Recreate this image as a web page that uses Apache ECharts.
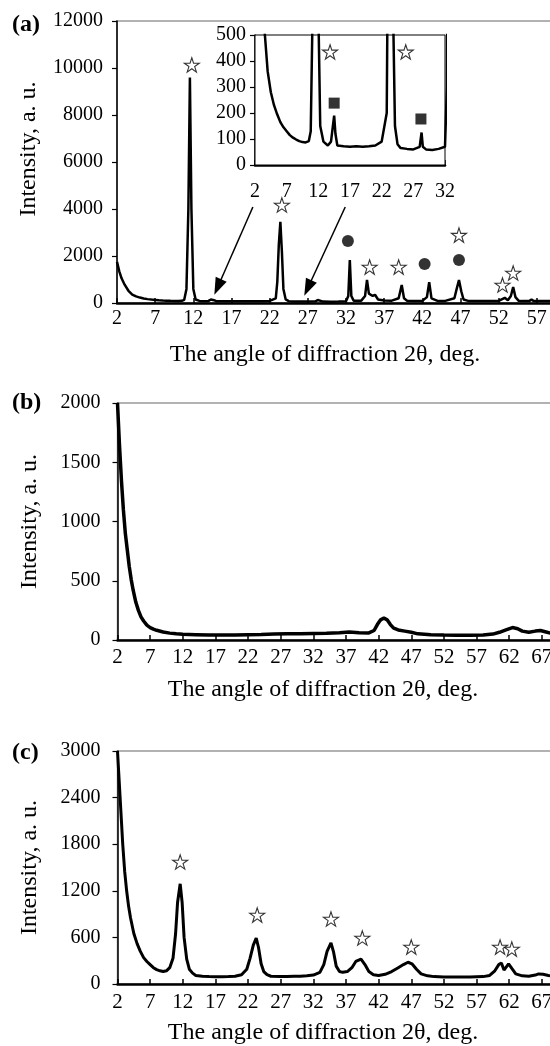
<!DOCTYPE html>
<html>
<head>
<meta charset="utf-8">
<script src="https://cdn.jsdelivr.net/npm/echarts@6/dist/echarts.min.js"></script>
<style>
html,body{margin:0;padding:0;background:#fff;}
#chart{width:550px;height:1046px;}
</style>
</head>
<body>
<div id="chart"></div>
<script>
// ---------- Panel (a): XRD pattern ----------
const angleA = [2.0,2.3,2.6,3.0,3.5,4.0,4.5,5.0,5.5,6.0,6.5,7.0,7.5,8.0,8.5,9.0,9.5,10.0,10.5,10.8,11.1,11.35,11.55,11.75,12.0,12.3,12.8,13.5,14.0,14.3,14.5,14.7,15.0,16.0,17.0,18.0,19.0,20.0,21.0,22.0,22.8,23.0,23.2,23.4,23.6,23.8,24.1,24.5,25.0,26.0,27.0,28.0,28.3,28.5,29.0,30.0,31.0,32.0,32.3,32.5,32.7,33.0,34.0,34.5,34.75,35.0,35.5,35.8,36.2,37.0,38.0,38.9,39.3,39.6,40.0,41.0,42.0,42.6,42.9,43.2,44.0,45.0,46.2,46.5,46.8,47.1,47.4,48.0,49.0,50.0,51.0,52.0,52.8,53.2,53.6,53.9,54.2,54.6,55.0,56.0,56.3,56.6,57.5,58.0,59.0,60.0,61.0,62.0];
const intensityA = [1750,1350,1050,780,520,360,280,230,195,165,145,130,115,105,98,92,88,87,92,130,600,4000,9600,4000,600,150,90,75,90,150,190,120,75,72,70,72,70,72,75,90,200,900,2500,3450,2200,600,150,80,65,62,60,70,125,70,60,58,62,70,300,1830,300,100,100,300,980,400,300,350,150,110,100,200,765,200,100,90,90,250,890,200,90,90,200,600,980,500,150,90,80,80,80,90,220,120,300,680,250,100,80,80,150,80,80,80,80,80,80,80];
const starAngleA = [11.8,23.6,35.1,38.9,46.8,52.5,53.9];
const starIntensityA = [10130,4170,1530,1530,2890,765,1276];
const dotAngleA = [32.25,42.3,46.8];
const dotIntensityA = [2640,1660,1830];
// arrows from the inset down to the pattern: [startAngle, startIntensity, endAngle, endIntensity]
const arrowsA = [[19.8,4085,15.2,680],[31.9,4085,27.0,640]];
// inset (same pattern, 0-500 range)
const starAngleInset = [13.85,25.8];
const starIntensityInset = [435,435];
const squareAngleInset = [14.5,28.2];
const squareIntensityInset = [238,177];

// ---------- Panel (b) ----------
const angleB = [2.0,2.3,2.6,2.9,3.2,3.5,3.8,4.1,4.4,4.8,5.2,5.6,6.0,6.5,7.0,7.5,8.0,9.0,10.0,11.0,12.0,14.0,16.0,18.0,20.0,22.0,24.0,26.0,28.0,30.0,32.0,34.0,36.0,37.5,39.0,40.5,41.3,41.8,42.3,42.8,43.3,43.8,44.3,45.0,46.0,47.0,48.0,50.0,52.0,54.0,56.0,58.0,59.5,60.5,61.5,62.5,63.3,64.0,65.0,66.0,66.8,67.5,68.5,70.0,72.0];
const intensityB = [2000,1650,1350,1100,900,760,620,510,420,320,250,195,160,125,105,92,82,68,58,52,48,45,42,42,43,45,47,50,52,52,55,58,62,68,62,60,80,130,170,185,170,130,100,85,75,65,52,45,42,40,40,42,50,65,85,105,95,75,65,75,80,70,55,50,48];

// ---------- Panel (c) ----------
const angleC = [2.0,2.2,2.5,2.8,3.1,3.4,3.7,4.0,4.5,5.0,5.5,6.0,6.5,7.0,7.5,8.0,8.5,9.0,9.5,10.0,10.5,10.9,11.2,11.6,11.9,12.2,12.6,13.0,13.5,14.0,15.0,16.0,17.0,18.0,19.0,20.0,21.0,21.8,22.3,22.8,23.25,23.6,24.0,24.4,24.9,25.5,27.0,28.0,29.0,30.0,31.0,32.0,33.0,33.6,34.1,34.7,35.1,35.5,36.0,36.5,37.2,37.9,38.5,39.3,39.9,40.5,41.2,42.0,43.0,44.0,45.0,45.8,46.5,47.1,47.8,48.5,49.5,50.5,52.0,54.0,56.0,58.0,59.0,59.8,60.4,60.8,61.2,61.5,61.9,62.4,63.0,64.0,65.0,66.0,66.5,67.2,68.0,69.0,70.0,72.0];
const intensityC = [3000,2700,2250,1800,1450,1200,1000,850,650,520,420,340,290,250,210,185,170,160,170,210,330,650,1050,1290,1050,600,320,190,140,110,100,95,92,92,95,100,120,190,330,500,590,470,260,160,120,100,95,95,100,100,105,115,150,250,420,530,410,230,160,150,160,210,290,320,250,160,120,110,125,160,210,250,280,260,190,130,105,95,90,90,90,95,110,170,250,270,180,190,260,200,130,105,100,115,130,125,110,95,85,80];
const starAngleC = [11.6,23.4,34.7,39.5,47.0,60.6,62.4];
const starIntensityC = [1571,888,837,592,476,476,450];

// ---------- helpers ----------
const FONT = "'Liberation Serif','Times New Roman',serif";
const pairs = (xs, ys) => xs.map((x, i) => [x, ys[i]]);
const STAR = 'path://M50,2 L61,36 L97,36 L68,57 L79,92 L50,71 L21,92 L32,57 L3,36 L39,36 Z';
const xTitle = 'The angle of diffraction 2θ, deg.';
const yTitle = 'Intensity, a. u.';
const plain = v => String(v);

function xAxis(gridIndex, min, max, labelSize, labelMargin, nameGap, withName, namePadRight) {
  return {
    type: 'value', gridIndex, min, max, interval: 5,
    axisLine: {show: true, onZero: false, lineStyle: {color: '#000', width: 2.5}},
    axisTick: {show: true, inside: true, length: 5, lineStyle: {color: '#000', width: 1.5}},
    axisLabel: {color: '#000', fontFamily: FONT, fontSize: labelSize, margin: labelMargin, formatter: plain, hideOverlap: false},
    splitLine: {show: false},
    name: withName ? xTitle : '', nameLocation: 'middle', nameGap,
    nameTextStyle: {color: '#000', fontFamily: FONT, fontSize: 24, padding: [0, namePadRight || 0, 0, 0]}
  };
}
function yAxis(gridIndex, max, interval, labelMargin, withName, namePadLeft) {
  return {
    type: 'value', gridIndex, min: 0, max, interval,
    axisLine: {show: true, lineStyle: {color: '#000', width: 1.5}},
    axisTick: {show: true, inside: false, length: 5, lineStyle: {color: '#000', width: 1.2}},
    axisLabel: {color: '#000', fontFamily: FONT, fontSize: 20, margin: labelMargin, formatter: plain},
    splitLine: {show: false},
    name: withName ? yTitle : '', nameLocation: 'middle', nameGap: 76, nameRotate: 90,
    nameTextStyle: {color: '#000', fontFamily: FONT, fontSize: 24, padding: [0, 0, 0, namePadLeft || 0]}
  };
}
const lineSeries = (xi, data, width, extra) => Object.assign({
  type: 'line', xAxisIndex: xi, yAxisIndex: xi, data, showSymbol: false, symbol: 'none',
  lineStyle: {color: '#000', width}, silent: true, animation: false, z: 3
}, extra || {});
const markerSeries = (xi, data, symbol, size, filled) => ({
  type: 'scatter', xAxisIndex: xi, yAxisIndex: xi, data, symbol, symbolSize: size,
  symbolKeepAspect: true,
  itemStyle: filled ? {color: '#000'} : {color: '#fff', borderColor: '#000', borderWidth: 1.1},
  silent: true, animation: false, z: 5
});
const gridBase = {show: true, outerBoundsMode: 'none', containLabel: false, backgroundColor: 'transparent'};

const chart = echarts.init(document.getElementById('chart'), null, {renderer: 'canvas'});
chart.setOption({
  backgroundColor: '#fff',
  animation: false,
  title: [
    {text: '(a)', left: 12, top: 13, padding: 0, textStyle: {fontFamily: FONT, fontSize: 24, fontWeight: 'bold', color: '#000'}},
    {text: '(b)', left: 12, top: 391, padding: 0, textStyle: {fontFamily: FONT, fontSize: 24, fontWeight: 'bold', color: '#000'}},
    {text: '(c)', left: 12, top: 741, padding: 0, textStyle: {fontFamily: FONT, fontSize: 24, fontWeight: 'bold', color: '#000'}}
  ],
  grid: [
    Object.assign({}, gridBase, {left: 117, top: 21, width: 458, height: 282, borderColor: '#999', borderWidth: 1.5}),
    Object.assign({}, gridBase, {left: 255, top: 35, width: 190, height: 130, borderColor: '#000', borderWidth: 1, backgroundColor: '#fff', z: 1}),
    Object.assign({}, gridBase, {left: 117.5, top: 403, width: 457, height: 237, borderColor: '#999', borderWidth: 1.5}),
    Object.assign({}, gridBase, {left: 117.5, top: 751, width: 457, height: 233, borderColor: '#999', borderWidth: 1.5})
  ],
  xAxis: [
    xAxis(0, 2, 62, 20, 6, 40, true, 42),
    xAxis(1, 2, 32, 20, 17, 0, false, 0),
    xAxis(2, 2, 72, 21, 7, 38, true, 46),
    xAxis(3, 2, 72, 21, 8, 37, true, 46)
  ],
  yAxis: [
    yAxis(0, 12000, 2000, 14, true, 26),
    yAxis(1, 500, 100, 9, false, 0),
    yAxis(2, 2000, 500, 17, true, 0),
    yAxis(3, 3000, 600, 17, true, 0)
  ],
  series: [
    lineSeries(0, pairs(angleA, intensityA), 2.5, {
      markLine: {
        silent: true, animation: false,
        symbol: ['none', 'triangle'], symbolSize: [12, 17],
        label: {show: false},
        lineStyle: {color: '#000', width: 1.5, type: 'solid'},
        data: arrowsA.map(a => [{coord: [a[0], a[1]]}, {coord: [a[2], a[3]]}])
      }
    }),
    lineSeries(1, pairs(angleA, intensityA), 2.5, {clip: true}),
    markerSeries(0, pairs(starAngleA, starIntensityA), STAR, 15, false),
    markerSeries(0, pairs(dotAngleA, dotIntensityA), 'circle', 12, true),
    markerSeries(1, pairs(starAngleInset, starIntensityInset), STAR, 15, false),
    markerSeries(1, pairs(squareAngleInset, squareIntensityInset), 'rect', 11, true),
    lineSeries(2, pairs(angleB, intensityB), 3.5),
    lineSeries(3, pairs(angleC, intensityC), 3),
    markerSeries(3, pairs(starAngleC, starIntensityC), STAR, 15, false)
  ]
});
</script>
</body>
</html>
